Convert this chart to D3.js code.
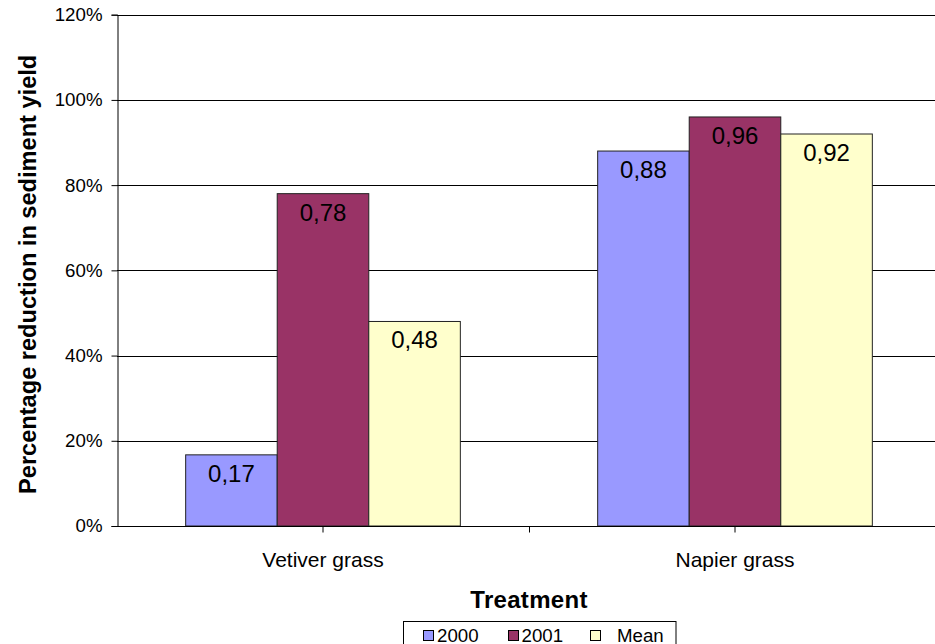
<!DOCTYPE html>
<html>
<head>
<meta charset="utf-8">
<script src="https://cdn.jsdelivr.net/npm/d3@7"></script>
<style>
  html, body { margin: 0; padding: 0; background: #fff; }
  svg { display: block; font-family: "Liberation Sans", Arial, sans-serif; }
</style>
</head>
<body>
<svg id="chart" width="935" height="644"></svg>
<script>
// ---- data ----
const categories = ["Vetiver grass", "Napier grass"];
const seriesNames = ["2000", "2001", "Mean"];
const values2000 = [0.167, 0.88];
const values2001 = [0.78, 0.96];
const valuesMean = [0.48, 0.92];
const yTicks = [0, 0.2, 0.4, 0.6, 0.8, 1.0, 1.2];
const colors = ["#9999FF", "#993366", "#FFFFCC"];
const xTitle = "Treatment";
const yTitle = "Percentage reduction in sediment yield";

const seriesValues = [values2000, values2001, valuesMean];
const rows = [];
categories.forEach((c, ci) => {
  seriesNames.forEach((s, si) => {
    rows.push({ cat: c, series: s, value: seriesValues[si][ci], color: colors[si] });
  });
});

// ---- layout ----
const svg = d3.select("#chart");
const plotL = 117, plotR = 941, plotT = 14.7, plotB = 526;

const x0 = d3.scaleBand().domain(categories).range([plotL, plotR]).padding(0);
const x1 = d3.scaleBand().domain(seriesNames).range([0, x0.bandwidth()])
  .paddingInner(0).paddingOuter(0.75);
const y = d3.scaleLinear().domain([0, 1.2]).range([plotB, plotT]);

// gridlines
svg.append("g").selectAll("line").data(yTicks.filter(d => d > 0)).join("line")
  .attr("x1", plotL).attr("x2", plotR)
  .attr("y1", d => Math.round(y(d)) + 0.5).attr("y2", d => Math.round(y(d)) + 0.5)
  .attr("stroke", "#000").attr("stroke-width", 1);

// bars
svg.append("g").selectAll("rect").data(rows).join("rect")
  .attr("x", d => x0(d.cat) + x1(d.series))
  .attr("y", d => y(d.value))
  .attr("width", x1.bandwidth())
  .attr("height", d => plotB - y(d.value))
  .attr("fill", d => d.color)
  .attr("stroke", "#222").attr("stroke-width", 1);

// data labels
svg.append("g").selectAll("text").data(rows).join("text")
  .attr("x", d => x0(d.cat) + x1(d.series) + x1.bandwidth() / 2)
  .attr("y", d => y(d.value) + 27)
  .attr("text-anchor", "middle")
  .attr("font-size", 24)
  .attr("fill", "#000")
  .text(d => d.value.toFixed(2).replace(".", ","));

// y axis
const yAxis = d3.axisLeft(y).tickValues(yTicks).tickSize(6).tickPadding(9)
  .tickFormat(d => Math.round(d * 100) + "%");
const gy = svg.append("g").attr("transform", `translate(${plotL + 0.5},0)`).call(yAxis);
gy.select(".domain").attr("stroke", "#000");
gy.selectAll(".tick line").attr("stroke", "#000");
gy.selectAll(".tick text").attr("font-size", 18.7).attr("fill", "#000")
  .attr("font-family", "Liberation Sans, Arial, sans-serif");

// x axis
const xAxis = d3.axisBottom(x0).tickSize(6).tickPadding(20).tickSizeOuter(0);
const gx = svg.append("g").attr("transform", `translate(0,${plotB + 0.5})`).call(xAxis);
gx.select(".domain").attr("stroke", "#000").attr("d", `M${plotL},0H${plotR}`);
gx.selectAll(".tick line").attr("stroke", "#000");
gx.selectAll(".tick text").attr("font-size", 21).attr("fill", "#000")
  .attr("font-family", "Liberation Sans, Arial, sans-serif");
// boundary ticks between categories
gx.append("g").selectAll("line").data(categories.slice(1)).join("line")
  .attr("x1", d => x0(d) + 0.5).attr("x2", d => x0(d) + 0.5)
  .attr("y1", 0).attr("y2", 6).attr("stroke", "#000");

// titles
svg.append("text")
  .attr("x", (plotL + plotR) / 2).attr("y", 608)
  .attr("text-anchor", "middle").attr("font-weight", "bold").attr("font-size", 24)
  .attr("letter-spacing", 0.3)
  .text(xTitle);
svg.append("text")
  .attr("transform", `translate(36,${(plotT + plotB) / 2 + 4}) rotate(-90)`)
  .attr("text-anchor", "middle").attr("font-weight", "bold").attr("font-size", 23.6)
  .text(yTitle);

// legend
const lg = svg.append("g");
lg.append("rect").attr("x", 403.5).attr("y", 621.5).attr("width", 272.5).attr("height", 40)
  .attr("fill", "#fff").attr("stroke", "#000").attr("stroke-width", 1);
const legendItemX = [423.5, 508.5, 590.5];
const legendTextX = [437, 521.5, 617];
const li = lg.selectAll("g.item").data(seriesNames).join("g").attr("class", "item");
li.append("rect")
  .attr("x", (d, i) => legendItemX[i]).attr("y", 630.5)
  .attr("width", 10).attr("height", 10)
  .attr("fill", (d, i) => colors[i]).attr("stroke", "#000").attr("stroke-width", 1);
li.append("text")
  .attr("x", (d, i) => legendTextX[i]).attr("y", 641.5)
  .attr("font-size", 18.7).attr("fill", "#000")
  .text(d => d);
</script>
</body>
</html>
